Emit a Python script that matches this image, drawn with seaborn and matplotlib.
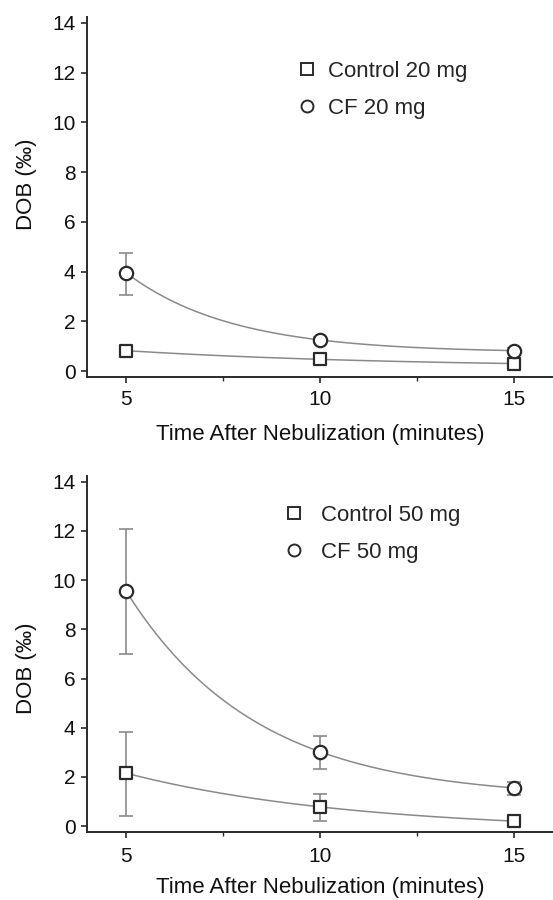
import numpy as np
import pandas as pd
import seaborn as sns
import matplotlib
matplotlib.use("Agg")
import matplotlib.pyplot as plt
from matplotlib.lines import Line2D
from matplotlib.ticker import MultipleLocator

sns.set_style("ticks")
plt.rcParams['font.family'] = ['Liberation Sans', 'DejaVu Sans']

times = [5, 10, 15]

# Top panel (20 mg)
ctrl20 = [0.82, 0.47, 0.30]
ctrl20_lo = [0.82, 0.47, 0.30]
ctrl20_hi = [0.82, 0.47, 0.30]
cf20 = [3.95, 1.25, 0.82]
cf20_lo = [3.05, 1.12, 0.72]
cf20_hi = [4.75, 1.35, 0.92]

# Bottom panel (50 mg)
ctrl50 = [2.15, 0.78, 0.20]
ctrl50_lo = [0.40, 0.20, 0.12]
ctrl50_hi = [3.83, 1.32, 0.28]
cf50 = [9.55, 3.02, 1.55]
cf50_lo = [7.00, 2.33, 1.28]
cf50_hi = [12.07, 3.66, 1.80]

labels_top = ["Control 20 mg", "CF 20 mg"]
labels_bot = ["Control 50 mg", "CF 50 mg"]

GRAY = "#8a8a8a"
DARK = "#2a2a2a"
FS = 16
TFS = 15


def exp_fit(t, y):
    # exponential decay with offset through three equally spaced points
    y1, y2, y3 = y
    r = (y2 - y3) / (y1 - y2)
    A = (y1 - y2) / (1 - r)
    c = y1 - A
    tt = np.linspace(t[0], t[-1], 200)
    return tt, c + A * r ** ((tt - t[0]) / (t[1] - t[0]))


def panel(ax, series, ylab_y, xpad, xlabpad):
    for (y, lo, hi, marker, ms) in series:
        tt, yy = exp_fit(times, y)
        sns.lineplot(x=tt, y=yy, ax=ax, color=GRAY, lw=1.1, zorder=2)
        yerr = [np.array(y) - np.array(lo), np.array(hi) - np.array(y)]
        ax.errorbar(times, y, yerr=yerr, fmt="none", ecolor=GRAY, elinewidth=1.2,
                    capsize=5, capthick=1.2, zorder=2)
        df = pd.DataFrame({"t": times, "v": y})
        sns.scatterplot(data=df, x="t", y="v", ax=ax, marker=marker, s=ms,
                        facecolor="white", edgecolor=DARK, linewidth=1.6, zorder=3)
    ax.set_xlim(4.0, 16.0)
    ax.set_ylim(-0.24, 14.24)
    ax.set_xticks([5, 10, 15])
    ax.xaxis.set_minor_locator(MultipleLocator(2.5))
    ax.set_yticks(range(0, 15, 2))
    ax.tick_params(axis="both", which="major", labelsize=TFS, color=DARK, width=1.2,
                   length=4.5, labelcolor="#111111")
    ax.tick_params(axis="x", which="major", length=4.5, pad=xpad)
    ax.tick_params(axis="x", which="minor", length=3, color=DARK, width=1.0)
    ax.tick_params(axis="y", pad=4.0)
    ax.set_xlabel("Time After Nebulization (minutes)", fontsize=FS, labelpad=xlabpad, color="#111111")
    ax.set_ylabel("DOB (‰)", fontsize=FS, labelpad=11, color="#111111")
    ax.yaxis.label.set_y(ylab_y)
    for s in ["left", "bottom"]:
        ax.spines[s].set_color(DARK)
        ax.spines[s].set_linewidth(1.4)
    sns.despine(ax=ax)
    handles = [
        Line2D([], [], marker="s", ls="none", markersize=8, markerfacecolor="white",
               markeredgecolor=DARK, markeredgewidth=1.4),
        Line2D([], [], marker="o", ls="none", markersize=8.6, markerfacecolor="white",
               markeredgecolor=DARK, markeredgewidth=1.4),
    ]
    return handles


fig = plt.figure(figsize=(5.53, 9.0), dpi=100)
ax1 = fig.add_axes([0.158, 0.5811, 0.842, 0.400])
ax2 = fig.add_axes([0.158, 0.0756, 0.842, 0.3956])

h = panel(ax1, [(ctrl20, ctrl20_lo, ctrl20_hi, "s", 80), (cf20, cf20_lo, cf20_hi, "o", 92)], 0.536, 5.0, 11)
ax1.legend(h, labels_top, loc="upper left", bbox_to_anchor=(0.429, 0.903), frameon=False,
           fontsize=FS, handlelength=1.0, handletextpad=0.45, labelspacing=0.73, borderaxespad=0)
h = panel(ax2, [(ctrl50, ctrl50_lo, ctrl50_hi, "s", 80), (cf50, cf50_lo, cf50_hi, "o", 92)], 0.461, 6.0, 8)
ax2.legend(h, labels_bot, loc="upper left", bbox_to_anchor=(0.401, 0.944), frameon=False,
           fontsize=FS, handlelength=1.0, handletextpad=0.72, labelspacing=0.73, borderaxespad=0)

fig.savefig("out.png", dpi=100)
